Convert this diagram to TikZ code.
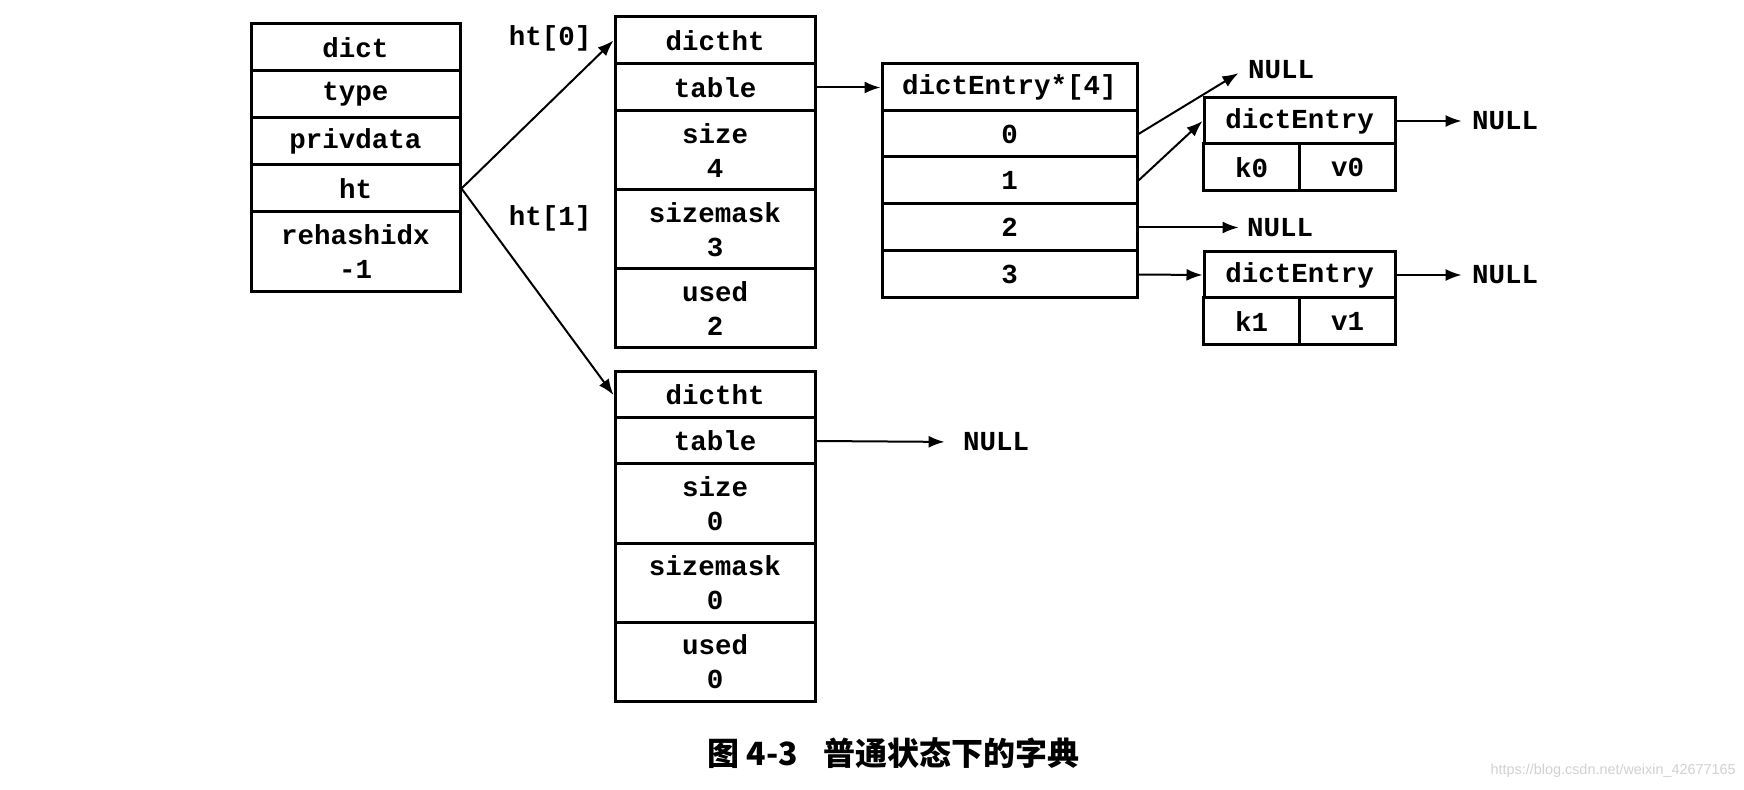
\documentclass[tikz,border=0pt]{standalone}
\usepackage{fontspec}
\setmonofont{Liberation Mono}
\newfontfamily\cjk{Noto Sans CJK SC}
\newfontfamily\wmfont{Liberation Sans}
\usetikzlibrary{arrows.meta}
\begin{document}
\begin{tikzpicture}[x=0.5pt,y=-0.5pt,
  cell/.style={draw, line width=1.5pt, inner sep=0pt, align=center,
    font=\ttfamily\bfseries\fontsize{13.75}{17}\selectfont},
  wA/.style={minimum width=104.5pt},
  wB/.style={minimum width=100pt},
  wC/.style={minimum width=127.5pt},
  wD/.style={minimum width=95.5pt},
  wE/.style={minimum width=47.75pt},
  hS/.style={minimum height=23.5pt},
  hT/.style={minimum height=39.5pt},
  lbl/.style={inner sep=2pt, font=\ttfamily\bfseries\fontsize{13.75}{17}\selectfont},
  ptr/.style={line width=1pt, -{Latex[length=8pt,width=6pt]}}
]
\useasboundingbox (0,0) rectangle (1744,790);
\fill[white] (0,0) rectangle (1744,790);

% dict
\node[cell,wA,hS] (dictN) at (355.5,47.5) {dict};
\node[cell,wA,hS] (typeN) at (355.5,94.5) {type};
\node[cell,wA,hS] (privN) at (355.5,141.5) {privdata};
\node[cell,wA,hS] (htN) at (355.5,188.5) {ht};
\node[cell,wA,minimum height=40pt] (rehN) at (355.5,252) {rehashidx\\-1};

% dictht 0
\node[cell,wB,hS] (h0) at (715,40.5) {dictht};
\node[cell,wB,hS] (t0) at (715,87.5) {table};
\node[cell,wB,hT] (s0) at (715,150.5) {size\\4};
\node[cell,wB,hT] (m0) at (715,229.5) {sizemask\\3};
\node[cell,wB,hT] (u0) at (715,308.5) {used\\2};

% dictht 1
\node[cell,wB,minimum height=23pt] (h1) at (715,395) {dictht};
\node[cell,wB,minimum height=23pt] (t1) at (715,441) {table};
\node[cell,wB,hT] (s1) at (715,503.5) {size\\0};
\node[cell,wB,hT] (m1) at (715,582.5) {sizemask\\0};
\node[cell,wB,hT] (u1) at (715,661.5) {used\\0};

% array
\node[cell,wC,hS] (ah) at (1009.5,87.5) {dictEntry*[4]};
\node[cell,wC,minimum height=23pt] (a0) at (1009.5,134) {0};
\node[cell,wC,hS] (a1) at (1009.5,180.5) {1};
\node[cell,wC,hS] (a2) at (1009.5,227.5) {2};
\node[cell,wC,hS] (a3) at (1009.5,274.5) {3};

% dictEntry 0
\node[cell,wD,minimum height=23pt] (e0h) at (1299.5,121) {dictEntry};
\node[cell,wE,hS] (e0k) at (1251.5,167.5) {k0};
\node[cell,wE,hS] (e0v) at (1347.5,167.5) {v0};

% dictEntry 1
\node[cell,wD,minimum height=23pt] (e1h) at (1299.5,275) {dictEntry};
\node[cell,wE,hS] (e1k) at (1251.5,321.5) {k1};
\node[cell,wE,hS] (e1v) at (1347.5,321.5) {v1};

% labels
\node[lbl] (l0) at (550,38) {ht[0]};
\node[lbl] (l1) at (550,218) {ht[1]};
\node[lbl] (n0) at (1281,70) {NULL};
\node[lbl] (n2) at (1280,228) {NULL};
\node[lbl] (n3) at (1505,121) {NULL};
\node[lbl] (n4) at (1505,275) {NULL};
\node[lbl] (n5) at (996,442) {NULL};

% connectors
\draw[ptr] (htN.east) -- (h0.west);
\draw[ptr] (htN.east) -- (h1.west);
\draw[ptr] (t0.east) -- (ah.west);
\draw[ptr,shorten >=3pt] (a0.east) -- (n0.west);
\draw[ptr] (a1.east) -- (e0h.west);
\draw[ptr,shorten >=2pt] (a2.east) -- (a2.east -| n2.west);
\draw[ptr] (a3.east) -- (e1h.west);
\draw[ptr,shorten >=3pt] (e0h.east) -- (n3.west);
\draw[ptr,shorten >=3pt] (e1h.east) -- (n4.west);
\draw[ptr,shorten >=7pt] (t1.east) -- (n5.west);

% caption
\node[anchor=west, inner sep=0pt, font=\cjk\bfseries\fontsize{16}{20}\selectfont] (cap) at (707,753) {图 4-3\hspace{13pt}普通状态下的字典};
\node[anchor=east, inner sep=0pt, text=black!18, font=\wmfont\fontsize{7.2}{9}\selectfont] (wm) at (1736,771) {https://blog.csdn.net/weixin\_42677165};
\end{tikzpicture}
\end{document}
